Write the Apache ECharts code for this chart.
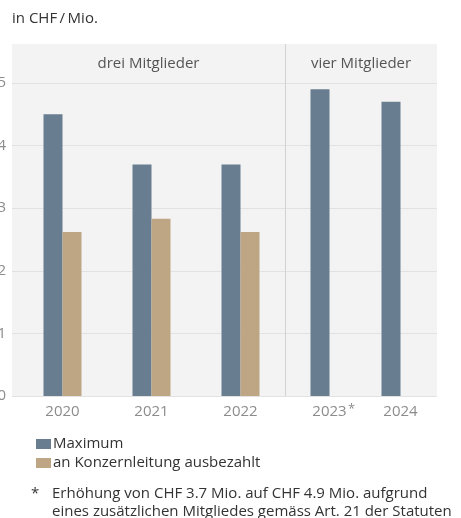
<!DOCTYPE html>
<html>
<head>
<meta charset="utf-8">
<script src="https://cdn.jsdelivr.net/npm/echarts@6/dist/echarts.min.js"></script>
<style>
  html, body { margin: 0; padding: 0; background: #fff; }
  #main { width: 461px; height: 518px; }
</style>
</head>
<body>
<div id="main"></div>
<script>
// data
var years = ['2020', '2021', '2022', '2023', '2024'];
var maximum = [4.5, 3.7, 3.7, 4.9, 4.7];
var ausbezahlt = [2.62, 2.83, 2.62, null, null];
var yTicks = [0, 1, 2, 3, 4, 5];

var FONT = '"Open Sans"';
var FS = 15;
var slate = '#687d8f';
var sand = '#bea684';

var chart = echarts.init(document.getElementById('main'));

function xLabel() {
  return {
    color: '#8c8c8c', fontFamily: FONT, fontSize: FS, margin: 7, interval: 0, lineHeight: 18,
    formatter: function (v) { return v === '2023' ? '{p|}' + v + '{s|*}' : v; },
    rich: {
      p: { width: 10, lineHeight: 18 },
      s: { width: 10, align: 'center', fontSize: 13, lineHeight: 18, verticalAlign: 'top', color: '#8c8c8c', fontFamily: FONT }
    }
  };
}

var hiddenY = { type: 'value', min: 0, max: 5, show: false };

var option = {
  animation: false,
  textStyle: { fontFamily: FONT },
  legend: {
    data: ['Maximum', 'an Konzernleitung ausbezahlt'],
    orient: 'vertical', left: 31, top: 430,
    itemWidth: 15, itemHeight: 10, itemGap: 1,
    icon: 'rect',
    textStyle: { color: '#333', fontSize: FS, fontFamily: FONT, lineHeight: 18, padding: [0, 0, 0, -3] }
  },
  grid: [
    { left: 12, top: 83, width: 425, height: 313, outerBoundsMode: 'none' },
    { left: 18, top: 83, width: 267, height: 313, outerBoundsMode: 'none' },
    { left: 294, top: 83, width: 142, height: 313, outerBoundsMode: 'none' }
  ],
  xAxis: [
    { gridIndex: 0, type: 'value', show: false },
    { gridIndex: 1, type: 'category', data: years.slice(0, 3),
      axisLine: { show: false }, axisTick: { show: false }, axisLabel: xLabel() },
    { gridIndex: 2, type: 'category', data: years.slice(3),
      axisLine: { show: false }, axisTick: { show: false }, axisLabel: xLabel() }
  ],
  yAxis: [
    { gridIndex: 0, type: 'value', min: yTicks[0], max: yTicks[yTicks.length - 1], interval: 1,
      axisLine: { show: false }, axisTick: { show: false },
      axisLabel: { color: '#8c8c8c', fontSize: FS, fontFamily: FONT, margin: 6 },
      splitLine: { lineStyle: { color: '#e2e2e2', width: 1 } } },
    Object.assign({ gridIndex: 1 }, hiddenY),
    Object.assign({ gridIndex: 2 }, hiddenY)
  ],
  graphic: [
    { type: 'rect', z: -10, shape: { x: 12, y: 44, width: 425, height: 352 }, style: { fill: '#f3f3f3' } },
    { type: 'line', z: 1, shape: { x1: 12, y1: 396.5, x2: 437, y2: 396.5 }, style: { stroke: '#e2e2e2', lineWidth: 1 } },
    { type: 'line', z: 1, shape: { x1: 285.5, y1: 44, x2: 285.5, y2: 396 }, style: { stroke: '#d2d2d2', lineWidth: 1 } },
    { type: 'text', left: 12, top: 11, style: { text: 'in CHF\u2009/\u2009Mio.', fill: '#333', fontSize: FS, fontFamily: FONT } },
    { type: 'text', x: 148.5, y: 64, style: { text: 'drei Mitglieder', fill: '#555', fontSize: FS, fontFamily: FONT, align: 'center', verticalAlign: 'middle' } },
    { type: 'text', x: 361, y: 64, style: { text: 'vier Mitglieder', fill: '#555', fontSize: FS, fontFamily: FONT, align: 'center', verticalAlign: 'middle' } },
    { type: 'text', x: 31, y: 494, style: { text: '*', fill: '#333', fontSize: FS, fontFamily: FONT, verticalAlign: 'middle' } },
    { type: 'text', x: 52, y: 494, style: { text: 'Erhöhung von CHF 3.7 Mio. auf CHF 4.9 Mio. aufgrund', fill: '#333', fontSize: FS, fontFamily: FONT, verticalAlign: 'middle' } },
    { type: 'text', x: 52, y: 512, style: { text: 'eines zusätzlichen Mitgliedes gemäss Art. 21 der Statuten', fill: '#333', fontSize: FS, fontFamily: FONT, verticalAlign: 'middle' } }
  ],
  series: [
    { name: 'Maximum', type: 'bar', xAxisIndex: 1, yAxisIndex: 1, data: maximum.slice(0, 3),
      barWidth: 19, barGap: '0%', itemStyle: { color: slate } },
    { name: 'an Konzernleitung ausbezahlt', type: 'bar', xAxisIndex: 1, yAxisIndex: 1, data: ausbezahlt.slice(0, 3),
      barWidth: 19, barGap: '0%', itemStyle: { color: sand } },
    { name: 'Maximum', type: 'bar', xAxisIndex: 2, yAxisIndex: 2, data: maximum.slice(3),
      barWidth: 19, barGap: '0%', itemStyle: { color: slate } },
    { name: 'an Konzernleitung ausbezahlt', type: 'bar', xAxisIndex: 2, yAxisIndex: 2, data: ausbezahlt.slice(3),
      barWidth: 19, barGap: '0%', itemStyle: { color: sand } }
  ]
};

chart.setOption(option);
</script>
</body>
</html>
